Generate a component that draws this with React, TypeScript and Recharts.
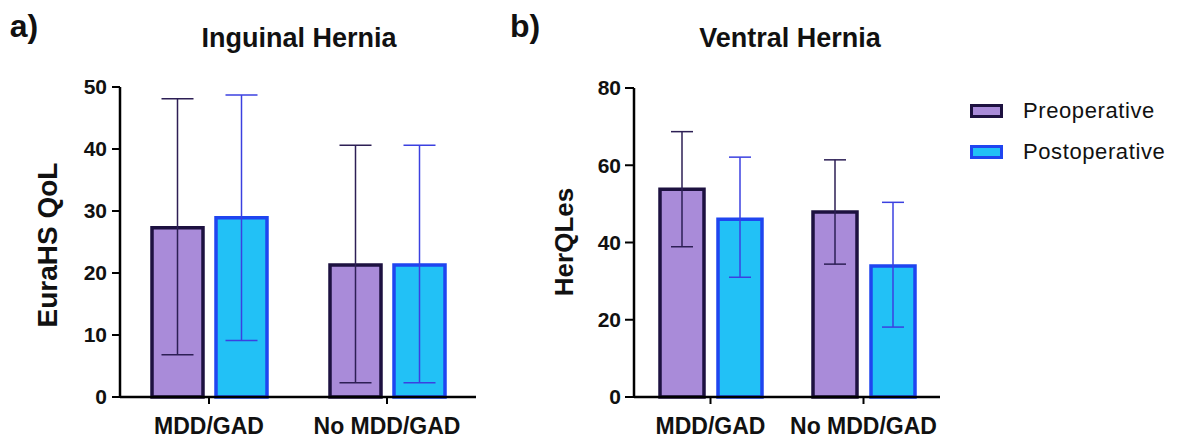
import { BarChart, Bar, XAxis, YAxis, ErrorBar } from 'recharts'

const groups = ['MDD/GAD', 'No MDD/GAD']

// a) Inguinal Hernia (EuraHS QoL): mean, lower and upper end of the error bar
const inguinalPre = [27.3, 21.3]
const inguinalPreLow = [6.8, 2.3]
const inguinalPreHigh = [48.1, 40.6]
const inguinalPost = [28.9, 21.3]
const inguinalPostLow = [9.1, 2.3]
const inguinalPostHigh = [48.7, 40.6]
const inguinalTicks = [0, 10, 20, 30, 40, 50]

// b) Ventral Hernia (HerQLes)
const ventralPre = [53.8, 47.9]
const ventralPreLow = [38.9, 34.4]
const ventralPreHigh = [68.7, 61.4]
const ventralPost = [46.0, 33.9]
const ventralPostLow = [31.0, 18.1]
const ventralPostHigh = [62.1, 50.4]
const ventralTicks = [0, 20, 40, 60, 80]

const PRE = { name: 'Preoperative', fill: '#a98bd9', stroke: '#1d1140', err: '#2d1f55' }
const POST = { name: 'Postoperative', fill: '#22c1f6', stroke: '#1f45f0', err: '#3b40e0' }

const FONT = '"Liberation Sans", Arial, sans-serif'
const INK = '#111'

function buildRows(pre: number[], preLow: number[], preHigh: number[], post: number[], postLow: number[], postHigh: number[]) {
  return groups.map((group, i) => ({
    group,
    pre: pre[i],
    preErr: [pre[i] - preLow[i], preHigh[i] - pre[i]],
    post: post[i],
    postErr: [post[i] - postLow[i], postHigh[i] - post[i]],
  }))
}

const inguinalData = buildRows(inguinalPre, inguinalPreLow, inguinalPreHigh, inguinalPost, inguinalPostLow, inguinalPostHigh)
const ventralData = buildRows(ventralPre, ventralPreLow, ventralPreHigh, ventralPost, ventralPostLow, ventralPostHigh)

const axisLine = { stroke: '#000', strokeWidth: 2.5 }
const tickLine = { stroke: '#000', strokeWidth: 2 }

function LegendBox() {
  return (
    <div style={{ position: 'absolute', left: 970, top: 90, display: 'flex', flexDirection: 'column' }}>
      {[PRE, POST].map((s) => (
        <div key={s.name} style={{ display: 'flex', alignItems: 'center', height: 41 }}>
          <div
            style={{
              width: 27,
              height: 8,
              background: s.fill,
              border: `3px solid ${s.stroke}`,
              marginRight: 20,
            }}
          />
          <span style={{ fontSize: 22, color: INK, letterSpacing: 0.6 }}>{s.name}</span>
        </div>
      ))}
    </div>
  )
}

function Label({ text, left, top, size }: { text: string; left: number; top: number; size: number }) {
  return (
    <div
      style={{
        position: 'absolute',
        left,
        top,
        fontSize: size,
        fontWeight: 700,
        lineHeight: `${size}px`,
        whiteSpace: 'nowrap',
        color: INK,
        transform: 'translateX(-50%)',
      }}
    >
      {text}
    </div>
  )
}

function AxisTitle({ text, cx, cy, size }: { text: string; cx: number; cy: number; size: number }) {
  return (
    <div
      style={{
        position: 'absolute',
        left: cx,
        top: cy,
        fontSize: size,
        fontWeight: 700,
        lineHeight: `${size}px`,
        whiteSpace: 'nowrap',
        color: INK,
        transform: 'translate(-50%, -50%) rotate(-90deg)',
      }}
    >
      {text}
    </div>
  )
}

export default function App() {
  return (
    <div
      style={{
        position: 'absolute',
        left: 0,
        top: 0,
        width: 1180,
        height: 441,
        background: '#fff',
        fontFamily: FONT,
        overflow: 'hidden',
      }}
    >
      <div style={{ position: 'absolute', left: 0, top: 0 }}>
        <BarChart
          width={476}
          height={441}
          data={inguinalData}
          margin={{ top: 87, right: 0, left: 60, bottom: 4 }}
          barSize={51}
          barGap={13}
        >
          <XAxis
            dataKey="group"
            height={40}
            axisLine={axisLine}
            tickLine={tickLine}
            tickSize={7}
            tickMargin={14}
            tick={{ fontSize: 23, fontWeight: 700, fill: INK }}
          />
          <YAxis
            width={60}
            domain={[0, 50]}
            ticks={inguinalTicks}
            axisLine={axisLine}
            tickLine={tickLine}
            tickSize={8}
            tickMargin={5}
            tick={{ fontSize: 21, fontWeight: 700, fill: INK }}
          />
          <Bar dataKey="pre" name={PRE.name} fill={PRE.fill} stroke={PRE.stroke} strokeWidth={3.5} isAnimationActive={false}>
            <ErrorBar dataKey="preErr" width={16} stroke={PRE.err} strokeWidth={1.5} direction="y" />
          </Bar>
          <Bar dataKey="post" name={POST.name} fill={POST.fill} stroke={POST.stroke} strokeWidth={3.5} isAnimationActive={false}>
            <ErrorBar dataKey="postErr" width={16} stroke={POST.err} strokeWidth={1.5} direction="y" />
          </Bar>
        </BarChart>
      </div>

      <div style={{ position: 'absolute', left: 480, top: 0 }}>
        <BarChart
          width={700}
          height={441}
          data={ventralData}
          margin={{ top: 88, right: 240, left: 94, bottom: 4 }}
          barSize={44}
          barGap={14}
        >
          <XAxis
            dataKey="group"
            height={40}
            axisLine={axisLine}
            tickLine={tickLine}
            tickSize={7}
            tickMargin={14}
            interval={0}
            tick={{ fontSize: 23, fontWeight: 700, fill: INK }}
          />
          <YAxis
            width={60}
            domain={[0, 80]}
            ticks={ventralTicks}
            axisLine={axisLine}
            tickLine={tickLine}
            tickSize={9}
            tickMargin={4}
            tick={{ fontSize: 21, fontWeight: 700, fill: INK }}
          />
          <Bar dataKey="pre" name={PRE.name} fill={PRE.fill} stroke={PRE.stroke} strokeWidth={3.5} isAnimationActive={false}>
            <ErrorBar dataKey="preErr" width={11} stroke={PRE.err} strokeWidth={1.5} direction="y" />
          </Bar>
          <Bar dataKey="post" name={POST.name} fill={POST.fill} stroke={POST.stroke} strokeWidth={3.5} isAnimationActive={false}>
            <ErrorBar dataKey="postErr" width={11} stroke={POST.err} strokeWidth={1.5} direction="y" />
          </Bar>
        </BarChart>
      </div>

      <LegendBox />
      <Label text="a)" left={24} top={10} size={32} />
      <Label text="b)" left={525} top={10} size={32} />
      <Label text="Inguinal Hernia" left={299} top={25} size={27} />
      <Label text="Ventral Hernia" left={790} top={25} size={27} />
      <AxisTitle text="EuraHS QoL" cx={48} cy={245} size={28} />
      <AxisTitle text="HerQLes" cx={564} cy={242} size={26} />
    </div>
  )
}
